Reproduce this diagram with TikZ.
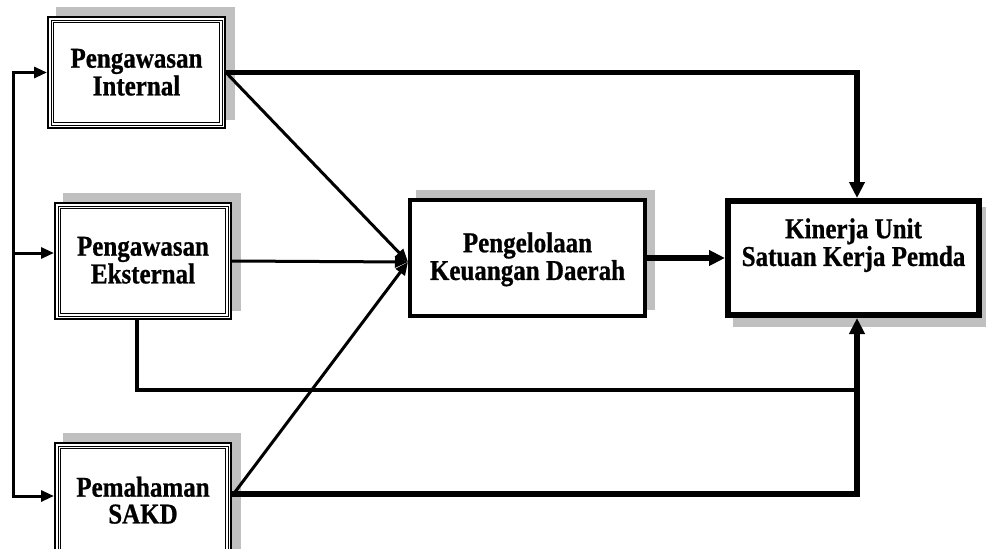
\documentclass[tikz,border=0pt]{standalone}
\usepackage{fontspec}
\setmainfont{Liberation Serif}[BoldFeatures={FakeBold=0.8}]
\usetikzlibrary{arrows.meta}
\definecolor{shadowgray}{HTML}{C0C0C0}
\newcommand\vst[1]{\scalebox{1}[1.15]{\begin{tabular}{@{}c@{}}#1\end{tabular}}}
\tikzset{
  x=1pt, y=-1pt,
  boxarea/.style={rectangle, inner sep=0pt, outer sep=0pt},
  lbl/.style={align=center, font=\bfseries\fontsize{25}{22.5}\selectfont, inner sep=0pt},
  thinline/.style={line width=3pt},
  thickline/.style={line width=5.5pt},
  tipS/.style={-{Triangle[length=13pt,width=11pt]}},
  tipL/.style={-{Triangle[length=16pt,width=15pt]}},
}
\begin{document}
\begin{tikzpicture}
\useasboundingbox (0,0) rectangle (986,549);
% box areas
\node[boxarea, minimum width=179pt, minimum height=113pt] (b1) at (136.5,72.5) {};
\node[boxarea, minimum width=178pt, minimum height=118pt] (b2) at (143,261) {};
\node[boxarea, minimum width=178pt, minimum height=116pt] (b3) at (143,500) {};
\node[boxarea, minimum width=239pt, minimum height=120pt] (b4) at (527.5,258) {};
\node[boxarea, minimum width=257pt, minimum height=120pt] (b5) at (853.5,258) {};
% shadows
\foreach \b in {b1,b2,b3}{
  \fill[shadowgray] ([shift={(9pt,9pt)}]\b.south west) rectangle ([shift={(9pt,9pt)}]\b.north east);
}
\fill[shadowgray] ([shift={(8pt,8pt)}]b4.south west) rectangle ([shift={(8pt,8pt)}]b4.north east);
\fill[shadowgray] ([shift={(8pt,-9pt)}]b5.south west) rectangle ([shift={(8pt,-9pt)}]b5.north east);
% triple-line boxes
\foreach \b in {b1,b2,b3}{
  \fill[white] (\b.south west) rectangle (\b.north east);
  \draw[line width=2.4pt] ([shift={(1.2pt,1.2pt)}]\b.south west) rectangle ([shift={(-1.2pt,-1.2pt)}]\b.north east);
  \draw[line width=1pt] ([shift={(4pt,4pt)}]\b.south west) rectangle ([shift={(-4pt,-4pt)}]\b.north east);
  \draw[line width=1pt] ([shift={(6.3pt,6.3pt)}]\b.south west) rectangle ([shift={(-6.3pt,-6.3pt)}]\b.north east);
}
% single-line boxes
\filldraw[fill=white, line width=4pt] ([shift={(2pt,2pt)}]b4.south west) rectangle ([shift={(-2pt,-2pt)}]b4.north east);
\filldraw[fill=white, line width=6pt] ([shift={(3pt,3pt)}]b5.south west) rectangle ([shift={(-3pt,-3pt)}]b5.north east);
% labels
\node[lbl] (l1) at (136.5,76) {\vst{Pengawasan\\Internal}};
\node[lbl] (l2) at (143,264) {\vst{Pengawasan\\Eksternal}};
\node[lbl] (l3) at (143,504) {\vst{Pemahaman\\SAKD}};
\node[lbl] (l4) at (527.5,260) {\vst{Pengelolaan\\Keuangan Daerah}};
\node[lbl] (l5) at (853.5,246) {\vst{Kinerja Unit\\Satuan Kerja Pemda}};
% helper coordinates
\coordinate (bustop) at (13,72.5);
\coordinate (busmid) at (13,253);
\coordinate (busbot) at (13,496);
\coordinate (b3out) at (b3.east |- busbot);
\coordinate (conv) at ([yshift=-4pt]b4.west);
\coordinate (j5top) at ([xshift=3.5pt]b5.north);
\coordinate (j5bot) at ([xshift=3.5pt]b5.south);
\coordinate (join) at (857,390);
% left bus
\draw[thinline] ([yshift=1.5pt]bustop) -- ([yshift=-1.5pt]busbot);
\draw[thinline, tipS] ([xshift=-1.5pt]bustop) -- (b1.west);
\draw[thinline, tipS] (busmid) -- (busmid -| b2.west);
\draw[thinline, tipS] ([xshift=-1.5pt]busbot) -- (busbot -| b3.west);
% to Pengelolaan
\draw[thinline, tipS] (b1.east) -- (conv);
\draw[thinline, tipS] (b2.east) -- (conv);
\draw[thinline, tipS] (b3out) -- (conv);
% thick lines to Kinerja
\draw[thickline, tipL] (b1.east) -| (j5top);
\draw[thickline, tipL] ([yshift=2pt]b3out) -| (j5bot);
\draw[thickline, tipL] (b4.east) -- (b5.west);
% Eksternal bottom line
\draw[line width=3.5pt] ([xshift=-6pt]b2.south) |- (join);
\end{tikzpicture}
\end{document}
